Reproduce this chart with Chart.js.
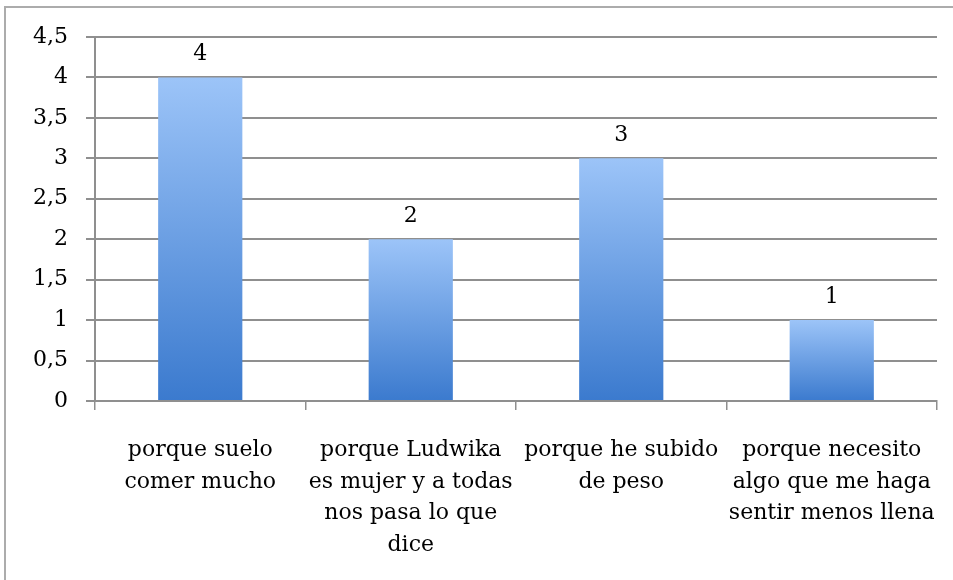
<!DOCTYPE html>
<html>
<head>
<meta charset="utf-8">
<script src="https://cdn.jsdelivr.net/npm/chart.js@4.4.1/dist/chart.umd.min.js"></script>
<style>
  html, body { margin: 0; padding: 0; background: #fff; overflow: hidden; }
  canvas { display: block; }
</style>
</head>
<body>
<canvas id="c" width="953" height="580"></canvas>
<script>
const categories = [
  ["porque suelo", "comer mucho"],
  ["porque Ludwika", "es mujer y a todas", "nos pasa lo que", "dice"],
  ["porque he subido", "de peso"],
  ["porque necesito", "algo que me haga", "sentir menos llena"]
];
const counts = [4, 2, 3, 1];
const yMin = 0;
const yMax = 4.5;
const yStep = 0.5;

const FONT = "'DejaVu Serif', 'Liberation Serif', serif";
const GRID = '#8f8f8f';
const INK = '#000';

// Light-to-dark blue fill running from each bar's top down to the baseline
function barFill(ctx) {
  const chart = ctx.chart;
  const y = chart.scales && chart.scales.y;
  if (!y || ctx.type !== 'data') return '#6a9fe6';
  const top = y.getPixelForValue(ctx.raw);
  const base = y.getPixelForValue(0);
  if (!isFinite(top) || !isFinite(base) || base === top) return '#6a9fe6';
  const g = chart.ctx.createLinearGradient(0, top, 0, base);
  g.addColorStop(0, '#9cc4f8');
  g.addColorStop(1, '#3b7ace');
  return g;
}

// Frame edge along the top and left of the drawing
const frameEdge = {
  id: 'frameEdge',
  beforeDraw(chart) {
    const ctx = chart.ctx;
    ctx.save();
    ctx.strokeStyle = '#acacac';
    ctx.lineWidth = 2;
    ctx.beginPath();
    ctx.moveTo(5, chart.height);
    ctx.lineTo(5, 7);
    ctx.lineTo(chart.width, 7);
    ctx.stroke();
    ctx.restore();
  }
};

// Value written above each bar
const valueLabels = {
  id: 'valueLabels',
  afterDatasetsDraw(chart) {
    const ctx = chart.ctx;
    const meta = chart.getDatasetMeta(0);
    ctx.save();
    ctx.font = '22px ' + FONT;
    ctx.fillStyle = INK;
    ctx.textAlign = 'center';
    ctx.textBaseline = 'middle';
    meta.data.forEach((bar, i) => {
      ctx.fillText(String(counts[i]), bar.x, bar.y - 23);
    });
    ctx.restore();
  }
};

new Chart(document.getElementById('c'), {
  type: 'bar',
  data: {
    labels: categories,
    datasets: [{
      data: counts,
      backgroundColor: barFill,
      borderWidth: 0,
      barPercentage: 0.4,
      categoryPercentage: 1.0
    }]
  },
  options: {
    responsive: false,
    animation: false,
    events: [],
    layout: { padding: { top: 37, right: 16, left: 0, bottom: 0 } },
    plugins: { legend: { display: false }, tooltip: { enabled: false } },
    scales: {
      x: {
        offset: true,
        grid: {
          offset: true,
          drawOnChartArea: false,
          drawTicks: true,
          tickLength: 9,
          color: GRID,
          lineWidth: 1.5
        },
        border: { display: true, color: GRID, width: 2 },
        ticks: {
          color: INK,
          padding: 24,
          maxRotation: 0,
          autoSkip: false,
          font: { family: FONT, size: 22, lineHeight: 1.45 }
        },
        afterFit(scale) {
          scale.height = 179;
          scale.paddingLeft = 0;
          scale.paddingRight = 0;
        }
      },
      y: {
        min: yMin,
        max: yMax,
        ticks: {
          stepSize: yStep,
          color: INK,
          padding: 18,
          font: { family: FONT, size: 22 },
          callback: (v) => String(v).replace('.', ',')
        },
        grid: { color: GRID, lineWidth: 2, tickLength: 9 },
        border: { display: true, color: GRID, width: 2 },
        afterFit(scale) { scale.width = 95; }
      }
    }
  },
  plugins: [frameEdge, valueLabels]
});
</script>
</body>
</html>
